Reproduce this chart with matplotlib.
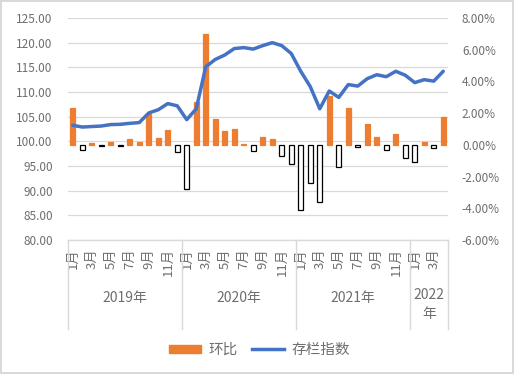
import numpy as np
import matplotlib.pyplot as plt
import matplotlib.transforms as mtransforms
from matplotlib.patches import Patch
from matplotlib.lines import Line2D

plt.rcParams['font.family'] = ['Noto Sans CJK SC', 'DejaVu Sans']

# months Jan 2019 .. Apr 2022
years = ['2019年', '2020年', '2021年', '2022\n年']
months_per_year = [12, 12, 12, 4]

# month-on-month change (%), right axis
mom = [2.35, -0.35, 0.1, -0.1, 0.2, -0.1, 0.4, 0.2, 1.95, 0.46, 0.95, -0.45,
       -2.8, 2.7, 7.0, 1.6, 0.85, 1.0, 0.05, -0.4, 0.5, 0.35, -0.7, -1.2,
       -4.1, -2.4, -3.6, 3.05, -1.4, 2.35, -0.15, 1.3, 0.5, -0.35, 0.7, -0.8,
       -1.1, 0.2, -0.2, 1.75]

# inventory index, left axis
index = [103.25, 102.9, 103.0, 103.1, 103.4, 103.45, 103.65, 103.8, 105.75, 106.4, 107.65, 107.2,
         104.4, 106.6, 115.1, 116.6, 117.5, 118.8, 119.0, 118.7, 119.4, 120.0, 119.4, 117.8,
         114.2, 111.1, 106.6, 110.2, 108.9, 111.5, 111.2, 112.7, 113.5, 113.1, 114.2, 113.4,
         111.9, 112.5, 112.2, 114.2]

orange = '#ED7D31'
blue = '#4472C4'
grey = '#6E6E6E'

fig = plt.figure(figsize=(5.14, 3.74), dpi=100)
fig.patch.set_edgecolor('#D9D9D9')
fig.patch.set_linewidth(1.5)

ax = fig.add_axes([68 / 514, 1 - 240 / 374, 380 / 514, 222 / 374])
ax2 = ax.twinx()
ax3 = ax.twinx()

x = np.arange(len(mom))

# left axis: grid and ticks
ax.set_ylim(80, 125)
ax.set_yticks(np.arange(80, 126, 5))
ax.set_yticklabels([f'{v:.2f}' for v in np.arange(80, 126, 5)])
ax.yaxis.grid(True, color='#D9D9D9', linewidth=0.9)
ax.set_axisbelow(True)
ax.tick_params(axis='y', length=0, labelsize=8.5, labelcolor=grey, pad=11)

# bars on right axis
cols = [orange if v >= 0 else 'white' for v in mom]
edges = [orange if v >= 0 else 'black' for v in mom]
ax2.bar(x, mom, width=0.55, color=cols, edgecolor=edges, linewidth=0.9)
ax2.set_ylim(-6, 8)
ax2.set_yticks(np.arange(-6, 9, 2))
ax2.set_yticklabels([f'{v:.2f}%' for v in np.arange(-6, 9, 2)])
ax2.tick_params(axis='y', length=0, labelsize=8.5, labelcolor=grey, pad=10)

# line on its own axis with left scale
ax3.plot(x, index, color=blue, linewidth=2.5, solid_capstyle='round')
ax3.set_ylim(80, 125)
ax3.set_yticks([])

for a in (ax, ax2, ax3):
    for s in ('top', 'left', 'right'):
        a.spines[s].set_visible(False)
    a.spines['bottom'].set_color('#D9D9D9')
ax.set_xlim(-0.5, len(mom) - 0.5)

# month tick labels
labels = []
for n in months_per_year:
    labels += [f'{m}月' for m in range(1, n + 1)]
ax.set_xticks(x[::2])
ax.set_xticklabels(labels[::2], rotation=90, fontsize=9.5, color=grey)
ax.tick_params(axis='x', length=0, pad=6)

# year groups
trans = mtransforms.blended_transform_factory(ax.transData, ax.transAxes)
bounds = [-0.5]
for n in months_per_year:
    bounds.append(bounds[-1] + n)
for b in bounds:
    ax.plot([b, b], [0, -0.4], color='#D9D9D9', linewidth=1, transform=trans, clip_on=False)
for i, yr in enumerate(years):
    mid = (bounds[i] + bounds[i + 1]) / 2
    yy = -0.26 if '\n' not in yr else -0.29
    ax.text(mid, yy, yr, transform=trans, ha='center', va='center',
            fontsize=10, color=grey, linespacing=1.45)

handles = [Patch(facecolor=orange, edgecolor=orange),
           Line2D([0], [0], color=blue, linewidth=2.5)]
fig.legend(handles, ['环比', '存栏指数'], loc='center', bbox_to_anchor=(0.505, 0.064),
           ncol=2, frameon=False, fontsize=10.5, handlelength=2.2, handleheight=0.5,
           columnspacing=1.0, handletextpad=0.5, labelcolor=grey)

plt.savefig('out.png', dpi=100)
